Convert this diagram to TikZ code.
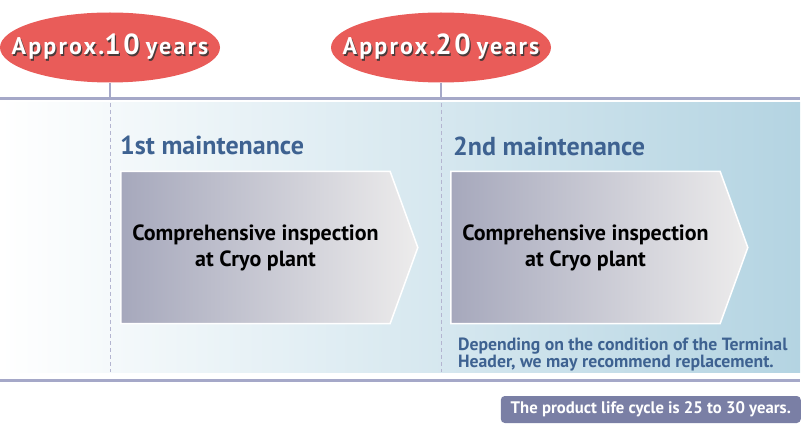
\documentclass[tikz,border=0pt]{standalone}
\usepackage{fontspec}
\setmainfont{PT Sans}
\usepackage{tikz}
\usetikzlibrary{shapes.geometric, shapes.symbols, positioning, calc}
\definecolor{approxred}{HTML}{E95C59}
\definecolor{linepurple}{HTML}{A5A8C8}
\definecolor{guidepurple}{HTML}{B3B5D0}
\definecolor{bandblue}{HTML}{B4D4E2}
\definecolor{titleblue}{HTML}{3E6291}
\definecolor{arrowleft}{HTML}{A6A8BC}
\definecolor{arrowright}{HTML}{EDECEC}
\definecolor{lifefill}{HTML}{7A7FA5}
\definecolor{shadowgray}{HTML}{4A3A3A}
\newcommand{\badgetext}[1]{\makebox[0pt]{\makebox[0pt][l]{\hspace{1.3pt}\raisebox{-1.3pt}{\color{shadowgray}#1}}#1}}
\newcommand{\bignum}{\fontsize{29}{29}\selectfont}
\tikzset{
  badge/.style={ellipse, fill=approxred, minimum width=220pt, minimum height=70pt, inner sep=0pt, text=white, font=\bfseries\fontsize{24}{24}\selectfont\addfontfeature{LetterSpace=9}},
  timeline/.style={draw=linepurple, line width=3pt},
  tick/.style={draw=linepurple, line width=2pt},
  guide/.style={draw=guidepurple, line width=1pt, dash pattern=on 4pt off 3pt},
  steplabel/.style={anchor=base west, inner sep=0pt, text=titleblue, font=\bfseries\fontsize{26}{26}\selectfont},
  stagearrow/.style={signal, signal to=east, signal pointer angle=140, draw=white, line width=1.5pt, left color=arrowleft, right color=arrowright, minimum width=297pt, minimum height=152pt, inner sep=0pt, align=center, font=\bfseries\fontsize{22}{26}\selectfont},
  note/.style={anchor=base west, inner sep=0pt, align=left, text=titleblue, font=\bfseries\fontsize{17.7}{17}\selectfont},
  lifebox/.style={rectangle, rounded corners=4pt, fill=lifefill, text=white, minimum width=300pt, minimum height=27pt, inner sep=0pt, font=\bfseries\fontsize{16.7}{16.7}\selectfont},
}
\begin{document}
\begin{tikzpicture}[x=1pt, y=-1pt, node distance=6pt]
\useasboundingbox (0,0) rectangle (803,430);
% band behind the two stages
\fill[left color=white, right color=bandblue] (0,103) rectangle (800,372);
\coordinate (topL) at (0,98.5);
\coordinate (topR) at (800,98.5);
\coordinate (botL) at (0,380.5);
\coordinate (botR) at (800,380.5);
\coordinate (bandtop) at (0,103);
\coordinate (bandbot) at (0,372);
\draw[timeline] (topL) -- (topR);
\draw[timeline] (botL) -- (botR);

\node[badge] (ten) at (110,47.5) {\badgetext{Approx.\kern0pt{\bignum 10}\hspace{6pt}years}};
\node[badge] (twenty) at (441,47.5) {\badgetext{Approx.\kern0pt{\bignum 20}\hspace{6pt}years}};
\draw[tick] (ten.south) -- (ten.south |- topL);
\draw[tick] (twenty.south) -- (twenty.south |- topL);
\draw[guide] (ten.south |- bandtop) -- (ten.south |- bandbot);
\draw[guide] (twenty.south |- bandtop) -- (twenty.south |- bandbot);

\node[stagearrow] (first) at (255.5,247.5) {Comprehensive inspection\\at Cryo plant};
\node[stagearrow] (second) at (585.5,247.5) {Comprehensive inspection\\at Cryo plant};
\node[steplabel] (firstlabel) at (120,155) {1st maintenance};
\node[steplabel] (secondlabel) at (453,156) {2nd maintenance};

\node[note] (advice) at (458,367) {Depending on the condition of the Terminal\\Header, we may recommend replacement.};
\node[lifebox, anchor=east] (life) at (801,409.5) {The product life cycle is 25 to 30 years.};
\end{tikzpicture}
\end{document}
